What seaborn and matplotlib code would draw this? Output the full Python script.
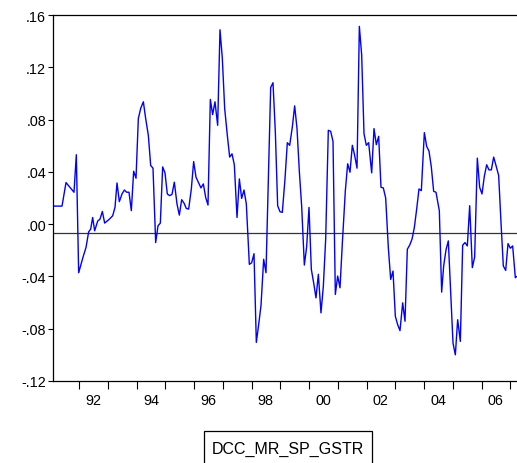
import matplotlib
matplotlib.use("Agg")
import numpy as np
import pandas as pd
import seaborn as sns
import matplotlib.pyplot as plt
from matplotlib.ticker import FixedLocator, FixedFormatter, NullFormatter
from matplotlib.patches import Rectangle

# ---- data (decimal year, value) ----
dates = [
    1991.084, 1991.409, 1991.548, 1991.826, 1991.907, 1991.988, 1992.151, 1992.243,
    1992.336, 1992.406, 1992.475, 1992.545, 1992.649, 1992.730, 1992.812, 1992.893,
    1993.055, 1993.171, 1993.252, 1993.322, 1993.403, 1993.496, 1993.577, 1993.658,
    1993.739, 1993.820, 1993.901, 1993.983, 1994.064, 1994.145, 1994.238, 1994.319,
    1994.412, 1994.493, 1994.574, 1994.667, 1994.748, 1994.829, 1994.910, 1994.991,
    1995.072, 1995.154, 1995.235, 1995.316, 1995.409, 1995.490, 1995.571, 1995.652,
    1995.733, 1995.814, 1995.907, 1995.988, 1996.070, 1996.151, 1996.243, 1996.325,
    1996.406, 1996.487, 1996.568, 1996.649, 1996.730, 1996.823, 1996.904, 1996.985,
    1997.067, 1997.159, 1997.241, 1997.322, 1997.403, 1997.496, 1997.577, 1997.658,
    1997.739, 1997.820, 1997.925, 1998.006, 1998.087, 1998.168, 1998.249, 1998.330,
    1998.423, 1998.504, 1998.667, 1998.748, 1998.829, 1998.910, 1998.991, 1999.072,
    1999.165, 1999.246, 1999.328, 1999.420, 1999.501, 1999.583, 1999.664, 1999.745,
    1999.838, 1999.919, 2000.000, 2000.081, 2000.162, 2000.243, 2000.325, 2000.417,
    2000.499, 2000.580, 2000.672, 2000.754, 2000.835, 2000.916, 2000.997, 2001.078,
    2001.159, 2001.264, 2001.345, 2001.426, 2001.507, 2001.588, 2001.670, 2001.751,
    2001.832, 2001.913, 2001.994, 2002.075, 2002.180, 2002.261, 2002.342, 2002.423,
    2002.504, 2002.585, 2002.667, 2002.759, 2002.841, 2002.922, 2003.003, 2003.084,
    2003.165, 2003.258, 2003.339, 2003.420, 2003.501, 2003.583, 2003.664, 2003.745,
    2003.826, 2003.907, 2004.012, 2004.093, 2004.174, 2004.255, 2004.336, 2004.417,
    2004.533, 2004.614, 2004.684, 2004.765, 2004.846, 2004.927, 2005.009, 2005.090,
    2005.171, 2005.264, 2005.345, 2005.426, 2005.507, 2005.589, 2005.681, 2005.762,
    2005.855, 2005.936, 2006.017, 2006.099, 2006.180, 2006.261, 2006.342, 2006.423,
    2006.504, 2006.597, 2006.678, 2006.759, 2006.841, 2006.922, 2007.003, 2007.084,
    2007.177, 2007.223,
]
values = [
    0.0138, 0.0138, 0.0318, 0.0244, 0.0531, -0.0372, -0.0244, -0.0179,
    -0.0059, -0.0038, 0.0051, -0.0051, 0.0023, 0.0038, 0.0097, 0.0008,
    0.0038, 0.0064, 0.0128, 0.0315, 0.0172, 0.0231, 0.0261, 0.0244,
    0.0244, 0.0103, 0.0405, 0.0351, 0.0808, 0.0885, 0.0936, 0.0808,
    0.0679, 0.0449, 0.0428, -0.0141, -0.0013, 0.0008, 0.0438, 0.0392,
    0.0231, 0.0218, 0.0228, 0.0321, 0.0154, 0.0069, 0.0187, 0.0161,
    0.0120, 0.0115, 0.0269, 0.0479, 0.0359, 0.0321, 0.0277, 0.0308,
    0.0205, 0.0146, 0.0954, 0.0838, 0.0936, 0.0756, 0.1487, 0.1269,
    0.0885, 0.0679, 0.0513, 0.0538, 0.0454, 0.0051, 0.0346, 0.0197,
    0.0261, 0.0154, -0.0308, -0.0295, -0.0226, -0.0905, -0.0769, -0.0623,
    -0.0269, -0.0372, 0.1046, 0.1082, 0.0705, 0.0141, 0.0095, 0.0090,
    0.0346, 0.0623, 0.0603, 0.0743, 0.0905, 0.0731, 0.0403, 0.0136,
    -0.0313, -0.0172, 0.0128, -0.0346, -0.0449, -0.0564, -0.0384, -0.0679,
    -0.0474, -0.0115, 0.0718, 0.0710, 0.0633, -0.0538, -0.0397, -0.0487,
    -0.0149, 0.0256, 0.0462, 0.0397, 0.0603, 0.0526, 0.0428, 0.1513,
    0.1295, 0.0692, 0.0603, 0.0623, 0.0392, 0.0731, 0.0608, 0.0672,
    0.0282, 0.0277, 0.0200, -0.0179, -0.0423, -0.0359, -0.0705, -0.0769,
    -0.0815, -0.0602, -0.0743, -0.0192, -0.0161, -0.0115, -0.0026, 0.0115,
    0.0269, 0.0256, 0.0700, 0.0595, 0.0559, 0.0436, 0.0251, 0.0244,
    0.0103, -0.0520, -0.0320, -0.0197, -0.0128, -0.0508, -0.0910, -0.1000,
    -0.0731, -0.0897, -0.0161, -0.0141, -0.0167, 0.0141, -0.0333, -0.0251,
    0.0505, 0.0282, 0.0231, 0.0367, 0.0454, 0.0415, 0.0415, 0.0513,
    0.0449, 0.0372, 0.0013, -0.0320, -0.0354, -0.0149, -0.0184, -0.0167,
    -0.0410, -0.0400,
]
mean_level = -0.0064
series_name = "DCC_MR_SP_GSTR"
y_ticks = [-0.12, -0.08, -0.04, 0.00, 0.04, 0.08, 0.12, 0.16]
y_tick_labels = ["-.12", "-.08", "-.04", ".00", ".04", ".08", ".12", ".16"]
year_ticks = list(range(1992, 2008))
label_years = [1992, 1994, 1996, 1998, 2000, 2002, 2004, 2006]
x_tick_labels = ["92", "94", "96", "98", "00", "02", "04", "06"]

sns.set_style("white")
plt.rcParams['font.family'] = ['Liberation Sans', 'DejaVu Sans']

W, H = 517, 464
fig = plt.figure(figsize=(W / 100, H / 100), dpi=100)
left_px, right_px, top_px, bot_px = 52.7, 518.0, 16.0, 382.0
ax = fig.add_axes([left_px / W, 1 - bot_px / H, (right_px - left_px) / W, (bot_px - top_px) / H])

df = pd.DataFrame({"date": dates, "value": values})
sns.lineplot(data=df, x="date", y="value", ax=ax, color="#0000ff", linewidth=1.0,
             sort=False, estimator=None, legend=False)
ax.axhline(mean_level, color="#333333", linewidth=0.9, zorder=1)

t_per_px = 1 / 28.75
ax.set_xlim(1992 + (left_px - 79) * t_per_px, 1992 + (right_px - 79) * t_per_px)
ax.set_ylim(-0.12, 0.16)

ax.yaxis.set_major_locator(FixedLocator(y_ticks))
ax.yaxis.set_major_formatter(FixedFormatter(y_tick_labels))
ax.xaxis.set_major_locator(FixedLocator(year_ticks))
ax.xaxis.set_major_formatter(NullFormatter())
ax.xaxis.set_minor_locator(FixedLocator([y + 0.5 for y in label_years]))
ax.xaxis.set_minor_formatter(FixedFormatter(x_tick_labels))

ax.tick_params(axis='y', which='major', direction='out', length=3.5, width=0.8,
               pad=1.2, labelsize=10.4, colors='black', left=True)
ax.tick_params(axis='x', which='major', direction='out', length=5.8, width=0.8,
               bottom=True, colors='black')
ax.tick_params(axis='x', which='minor', length=0, pad=9, labelsize=10.4,
               bottom=True, labelcolor='black')
ax.set_xlabel("")
ax.set_ylabel("")
for s in ax.spines.values():
    s.set_visible(True)
    s.set_color("black")
    s.set_linewidth(0.9)
ax.grid(False)

# legend box
bx0, bx1, by0, by1 = 204, 372, 432, 467
fig.patches.append(Rectangle((bx0 / W, 1 - by1 / H), (bx1 - bx0) / W, (by1 - by0) / H,
                             transform=fig.transFigure, fill=False, edgecolor="black",
                             linewidth=0.9))
fig.text(288 / W, 1 - 449 / H, series_name, ha="center", va="center",
         fontsize=11.5, color="black")

fig.savefig("out.png", dpi=100)
